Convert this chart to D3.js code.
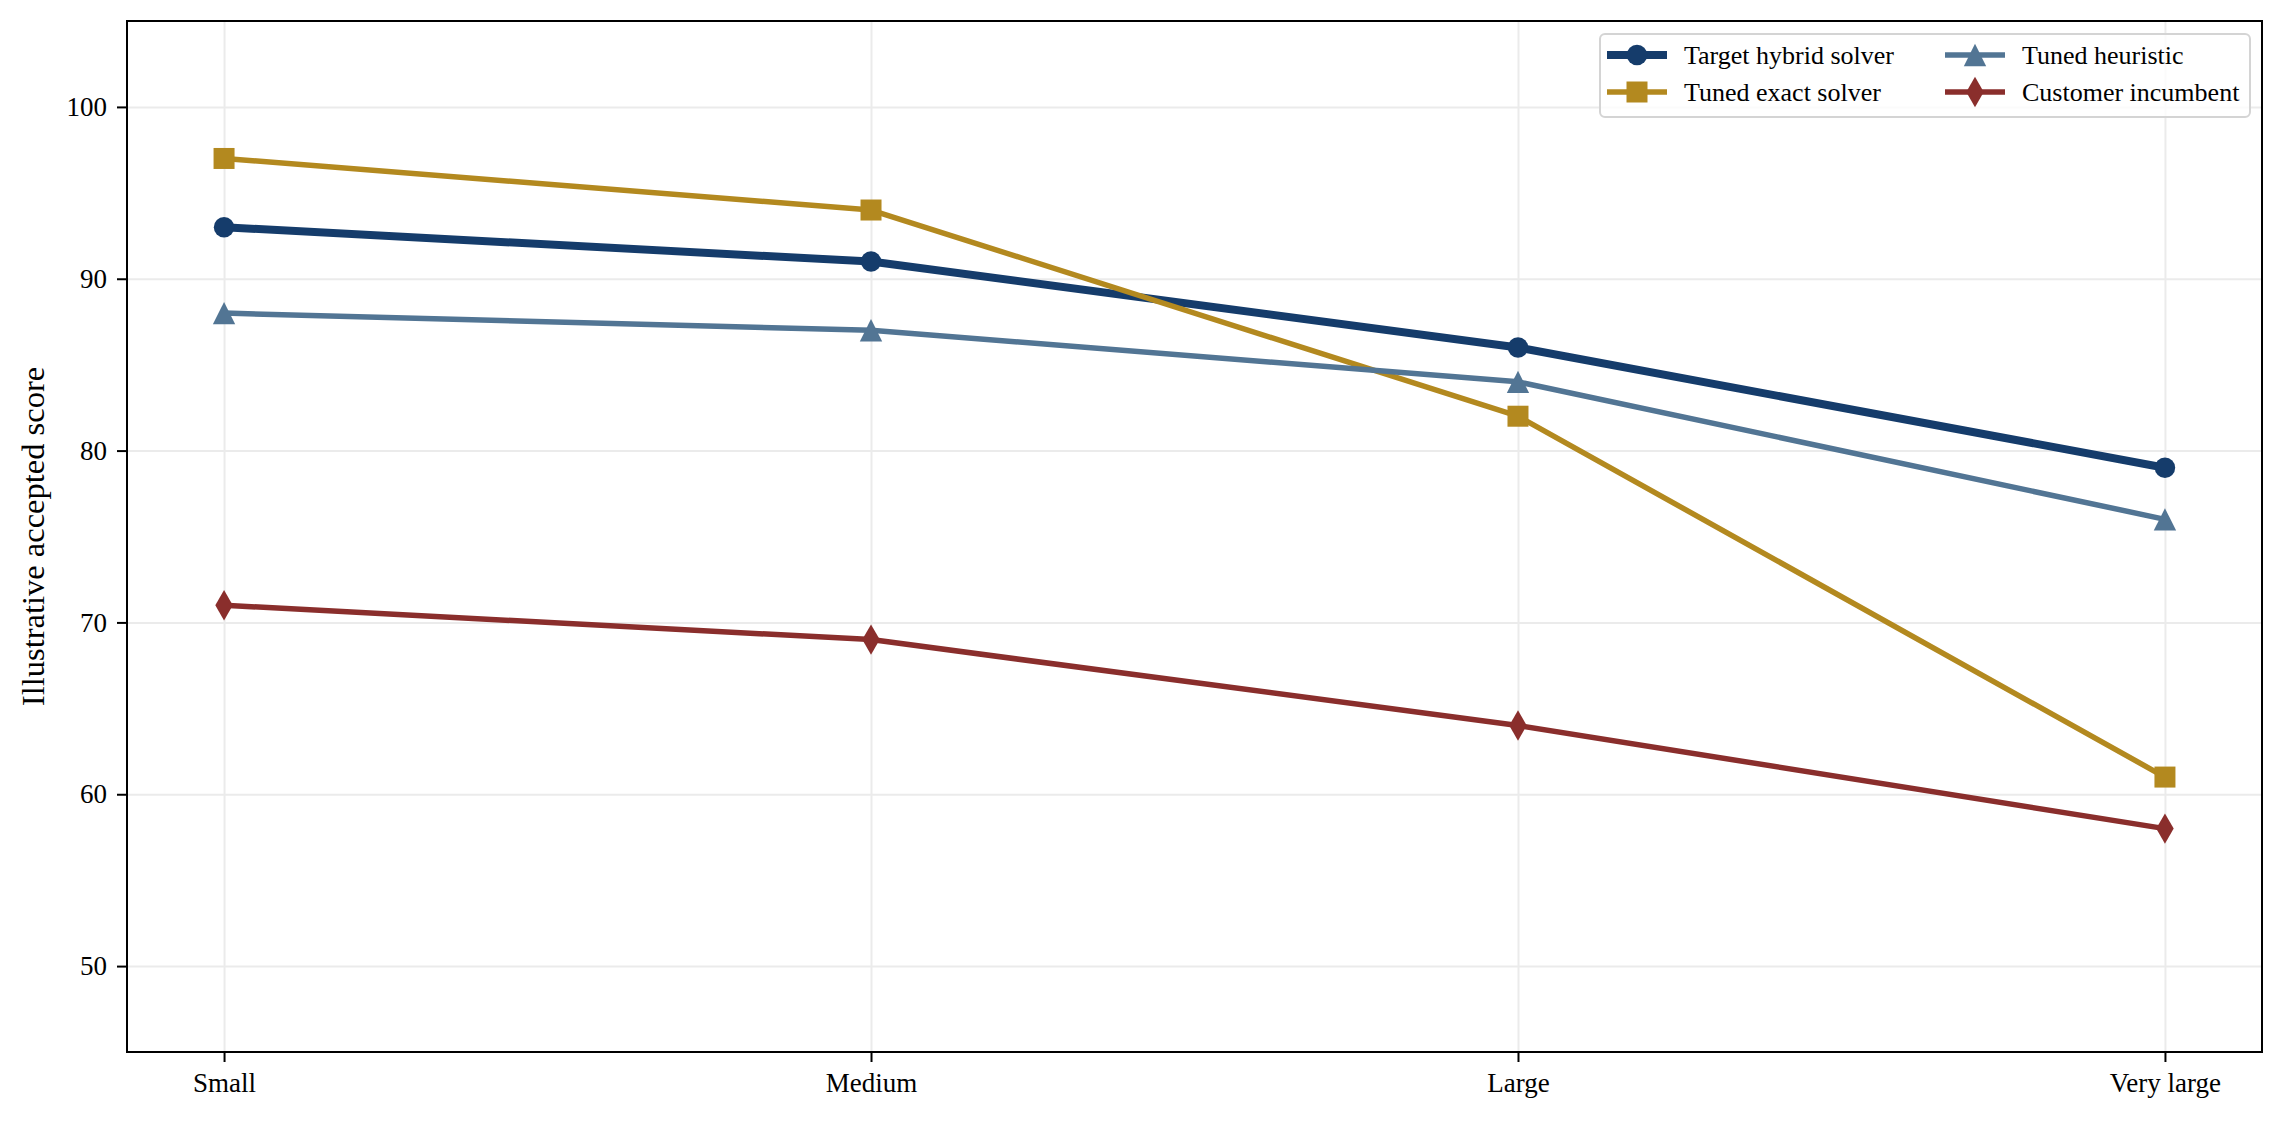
<!DOCTYPE html>
<html>
<head>
<meta charset="utf-8">
<script src="https://cdn.jsdelivr.net/npm/d3@7"></script>
<style>
  body { margin: 0; background: #fff; }
  svg text { font-family: "Liberation Serif", "Times New Roman", serif; fill: #000; }
</style>
</head>
<body>
<div id="chart"></div>
<script>
// DATA
const categories = ["Small", "Medium", "Large", "Very large"];
const seriesNames = ["Target hybrid solver", "Tuned exact solver", "Tuned heuristic", "Customer incumbent"];
const targetHybrid = [93, 91, 86, 79];
const tunedExact = [97, 94, 82, 61];
const tunedHeuristic = [88, 87, 84, 76];
const customerIncumbent = [71, 69, 64, 58];
const yTicks = [50, 60, 70, 80, 90, 100];
const yLabel = "Illustrative accepted score";

// DIMENSIONS
const WIDTH = 2284;
const HEIGHT = 1121;
const LEFT = 127, RIGHT = 2262, TOP = 21, BOTTOM = 1052;

// matplotlib-like triangle (width == height)
const triangleUp = {
  draw(ctx, size) {
    const h = Math.sqrt(size) / 2;
    ctx.moveTo(0, -h);
    ctx.lineTo(h, h);
    ctx.lineTo(-h, h);
    ctx.closePath();
  }
};

const styles = [
  { color: "#153c6b", lw: 8, symbol: d3.symbolCircle, size: 330 },
  { color: "#b3891f", lw: 5.5, symbol: d3.symbolSquare, size: 441 },
  { color: "#527594", lw: 5.5, symbol: triangleUp, size: 500 },
  { color: "#8a2e2c", lw: 5.5, symbol: d3.symbolDiamond, size: 265 }
];

const series = [targetHybrid, tunedExact, tunedHeuristic, customerIncumbent]
  .map((values, i) => ({ name: seriesNames[i], values, ...styles[i] }));

// SCALES
const x = d3.scalePoint().domain(categories).range([LEFT, RIGHT]).padding(0.15);
const y = d3.scaleLinear().domain([45, 105]).range([BOTTOM, TOP]);

const svg = d3.select("#chart").append("svg")
  .attr("width", WIDTH)
  .attr("height", HEIGHT);

// grid
svg.append("g")
  .attr("transform", `translate(0,${BOTTOM})`)
  .call(d3.axisBottom(x).tickSize(-(BOTTOM - TOP)).tickFormat(""))
  .call(g => g.select(".domain").remove())
  .call(g => g.selectAll("line").attr("stroke", "#ebebeb").attr("stroke-width", 2));

svg.append("g")
  .attr("transform", `translate(${LEFT},0)`)
  .call(d3.axisLeft(y).tickValues(yTicks).tickSize(-(RIGHT - LEFT)).tickFormat(""))
  .call(g => g.select(".domain").remove())
  .call(g => g.selectAll("line").attr("stroke", "#ebebeb").attr("stroke-width", 2));

// lines + markers
const line = d3.line()
  .x((d, i) => x(categories[i]))
  .y(d => y(d));

series.forEach(s => {
  const g = svg.append("g");
  g.append("path")
    .attr("d", line(s.values))
    .attr("fill", "none")
    .attr("stroke", s.color)
    .attr("stroke-width", s.lw)
    .attr("stroke-linejoin", "round")
    .attr("stroke-linecap", "round");
  g.selectAll("path.marker")
    .data(s.values)
    .join("path")
    .attr("class", "marker")
    .attr("transform", (d, i) => `translate(${x(categories[i])},${y(d)})`)
    .attr("d", d3.symbol().type(s.symbol).size(s.size))
    .attr("fill", s.color);
});

// frame
svg.append("rect")
  .attr("x", LEFT).attr("y", TOP)
  .attr("width", RIGHT - LEFT).attr("height", BOTTOM - TOP)
  .attr("fill", "none").attr("stroke", "#000").attr("stroke-width", 2);

// axes
svg.append("g")
  .attr("transform", `translate(${LEFT},0)`)
  .call(d3.axisLeft(y).tickValues(yTicks).tickSize(10).tickPadding(10))
  .call(g => g.select(".domain").remove())
  .call(g => g.selectAll("line").attr("stroke", "#000").attr("stroke-width", 2))
  .call(g => g.selectAll("text").style("font-size", "27px").attr("font-family", null));

svg.append("g")
  .attr("transform", `translate(0,${BOTTOM})`)
  .call(d3.axisBottom(x).tickSize(10).tickPadding(11))
  .call(g => g.select(".domain").remove())
  .call(g => g.selectAll("line").attr("stroke", "#000").attr("stroke-width", 2))
  .call(g => g.selectAll("text").style("font-size", "27px").attr("font-family", null));

// y label
svg.append("text")
  .attr("transform", `translate(33,${(TOP + BOTTOM) / 2}) rotate(-90)`)
  .attr("text-anchor", "middle")
  .attr("dominant-baseline", "central")
  .style("font-size", "32.5px")
  .text(yLabel);

// legend
const legend = svg.append("g");
legend.append("rect")
  .attr("x", 1600).attr("y", 34)
  .attr("width", 650).attr("height", 83)
  .attr("rx", 5)
  .attr("fill", "#fff")
  .attr("fill-opacity", 0.8)
  .attr("stroke", "#d4d4d4")
  .attr("stroke-width", 2);

const colX = [1607, 1945];
const rowY = [55, 92];
series.forEach((s, i) => {
  const cx = colX[Math.floor(i / 2)];
  const cy = rowY[i % 2];
  const item = legend.append("g").attr("transform", `translate(${cx},${cy})`);
  item.append("line")
    .attr("x1", 0).attr("x2", 60)
    .attr("stroke", s.color)
    .attr("stroke-width", s.lw);
  item.append("path")
    .attr("transform", "translate(30,0)")
    .attr("d", d3.symbol().type(s.symbol).size(s.size))
    .attr("fill", s.color);
  item.append("text")
    .attr("x", 77)
    .attr("dominant-baseline", "central")
    .style("font-size", "26px")
    .text(s.name);
});
</script>
</body>
</html>
